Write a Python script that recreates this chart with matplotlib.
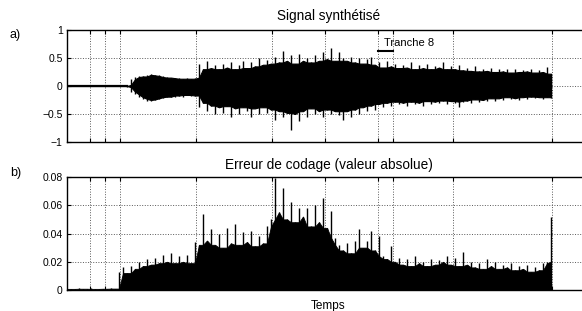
import numpy as np
import matplotlib
matplotlib.use('Agg')
import matplotlib.pyplot as plt

plt.rcParams['font.family'] = ['Liberation Sans', 'DejaVu Sans']

# time axis (arbitrary units), samples every 4 units starting at 0
step = 4
frame_ticks = [23, 38, 53, 129, 205, 258, 311, 326, 386, 485]

# a) synthesised signal: upper / lower peaks
sig_upper = [0, 0, 0, 0, 0, 0, 0, 0, 0, 0, 0, 0, 0, 0, 0,
             0.02, 0.12, 0.16, 0.18, 0.17, 0.2, 0.21, 0.2, 0.19, 0.18, 0.16, 0.15, 0.15, 0.14, 0.13, 0.14, 0.13, 0.15,
             0.4, 0.3, 0.44, 0.32, 0.38, 0.3, 0.4, 0.33, 0.42, 0.3, 0.38, 0.45, 0.32, 0.43, 0.35, 0.5, 0.38, 0.47,
             0.4, 0.52, 0.42, 0.63, 0.45, 0.55, 0.4, 0.58, 0.45, 0.5, 0.42, 0.55, 0.45, 0.6, 0.48, 0.68, 0.45, 0.6,
             0.5, 0.45, 0.52, 0.42, 0.5, 0.4, 0.48, 0.52, 0.38, 0.42, 0.33, 0.45, 0.35, 0.4, 0.32, 0.38, 0.33, 0.42,
             0.3, 0.37, 0.32, 0.4, 0.3, 0.36, 0.33, 0.42, 0.3, 0.35, 0.3, 0.38, 0.28, 0.33, 0.27, 0.36, 0.26, 0.3,
             0.27, 0.33, 0.25, 0.3, 0.26, 0.31, 0.24, 0.3, 0.25, 0.28, 0.26, 0.3, 0.24, 0.28, 0.25, 0.34, 0.22]
sig_lower = [0, 0, 0, 0, 0, 0, 0, 0, 0, 0, 0, 0, 0, 0, 0,
             -0.02, -0.1, -0.15, -0.2, -0.23, -0.26, -0.27, -0.25, -0.24, -0.22, -0.2, -0.19, -0.2, -0.17, -0.19, -0.16, -0.18, -0.17,
             -0.38, -0.3, -0.45, -0.35, -0.5, -0.38, -0.48, -0.36, -0.55, -0.4, -0.5, -0.38, -0.45, -0.55, -0.4, -0.5, -0.38, -0.48,
             -0.42, -0.6, -0.45, -0.55, -0.48, -0.78, -0.5, -0.62, -0.45, -0.55, -0.4, -0.5, -0.45, -0.55, -0.42, -0.5, -0.45, -0.52,
             -0.6, -0.45, -0.55, -0.42, -0.5, -0.38, -0.45, -0.35, -0.42, -0.32, -0.38, -0.3, -0.35, -0.28, -0.33, -0.3, -0.36, -0.28,
             -0.33, -0.3, -0.35, -0.27, -0.32, -0.28, -0.3, -0.26, -0.32, -0.27, -0.3, -0.38, -0.28, -0.26, -0.3, -0.24, -0.28, -0.25,
             -0.27, -0.22, -0.26, -0.22, -0.25, -0.2, -0.24, -0.22, -0.25, -0.2, -0.23, -0.19, -0.22, -0.2, -0.23, -0.2, -0.22]

# b) coding error (absolute value)
err = [0.001, 0.0008, 0.001, 0.0012, 0.0009, 0.001, 0.0011, 0.0008, 0.001, 0.0009, 0.001, 0.0012, 0.001,
       0.013, 0.016, 0.012, 0.017, 0.015, 0.02, 0.017, 0.022, 0.018, 0.023, 0.019, 0.025, 0.02, 0.026, 0.019, 0.024,
       0.02, 0.025, 0.019,
       0.034, 0.032, 0.054, 0.035, 0.043, 0.032, 0.04, 0.03, 0.044, 0.033, 0.047, 0.032, 0.041, 0.034, 0.042, 0.031,
       0.038, 0.033, 0.045, 0.05, 0.079, 0.055, 0.072, 0.05, 0.062, 0.048, 0.058, 0.052, 0.058, 0.045, 0.06, 0.048,
       0.065, 0.044, 0.056, 0.037, 0.032, 0.028, 0.033, 0.026, 0.035, 0.043, 0.03, 0.035, 0.042, 0.028, 0.038, 0.024,
       0.022, 0.031, 0.02, 0.023, 0.018, 0.022, 0.017, 0.024, 0.019, 0.02, 0.017, 0.022, 0.018, 0.021, 0.02, 0.024,
       0.018, 0.023, 0.017, 0.027, 0.018, 0.02, 0.016, 0.019, 0.015, 0.022, 0.017, 0.02, 0.015, 0.018, 0.016, 0.019,
       0.014, 0.017, 0.015, 0.018, 0.013, 0.016, 0.014, 0.019, 0.02, 0.052]

sig_yticks = [-1, -0.5, 0, 0.5, 1]
sig_ylabels = ['\u22121', '\u22120.5', '0', '0.5', '1']
err_yticks = [0, 0.02, 0.04, 0.06, 0.08]
err_ylabels = ['0', '0.02', '0.04', '0.06', '0.08']


def body(v):
    # solid part of the trace: smallest magnitude of each peak and its neighbours
    v = np.asarray(v, float)
    p = np.pad(np.abs(v), 1, mode='edge')
    m = np.minimum(np.minimum(p[:-2], p[1:-1]), p[2:])
    return np.sign(v) * m


sig_upper = np.array(sig_upper)
sig_lower = np.array(sig_lower)
err = np.array(err)
t_sig = step * np.arange(len(sig_upper))
t_err = step * np.arange(len(err))

fig = plt.figure(figsize=(5.82, 3.11), dpi=100)
left = 67 / 582
width = (590 - 67) / 582
ax1 = fig.add_axes([left, (311 - 142) / 311, width, 112 / 311])
ax2 = fig.add_axes([left, (311 - 290) / 311, width, 113 / 311])

ax1.fill_between(t_sig, body(sig_lower), body(sig_upper), color='k', lw=0.8)
ax1.vlines(t_sig, sig_lower, sig_upper, color='k', lw=1.0)
ax1.plot(t_sig[:16], np.zeros(16), color='k', lw=1.6)

ax2.fill_between(t_err, 0, body(err), color='k', lw=0.6)
ax2.vlines(t_err, 0, err, color='k', lw=1.0)


def style(ax, yt, yl):
    ax.set_xlim(0, 523)
    ax.set_ylim(yt[0], yt[-1])
    ax.set_xticks(frame_ticks)
    ax.set_xticklabels([])
    ax.set_yticks(yt)
    ax.set_yticklabels(yl)
    ax.tick_params(direction='in', top=True, right=True, length=3, width=0.8, labelsize=7.5, pad=3)
    ax.grid(True, linestyle=':', color='0.35', lw=0.7)
    ax.set_axisbelow(True)
    for s in ax.spines.values():
        s.set_linewidth(1.0)


style(ax1, sig_yticks, sig_ylabels)
style(ax2, err_yticks, err_ylabels)

ax1.set_title('Signal synthétisé', fontsize=9.8, pad=7)
ax2.set_title('Erreur de codage (valeur absolue)', fontsize=9.8, pad=6)
ax2.set_xlabel('Temps', fontsize=8.5, labelpad=4)

# frame 8 marker
ax1.plot([311, 326], [0.625, 0.625], color='k', lw=1.5)
ax1.text(317, 0.77, 'Tranche 8', fontsize=8, ha='left', va='center')

fig.text(10 / 582, 1 - 35 / 311, 'a)', fontsize=9, va='center')
fig.text(10 / 582, 1 - 173 / 311, 'b)', fontsize=9, va='center')

fig.savefig('out.png', dpi=100)
